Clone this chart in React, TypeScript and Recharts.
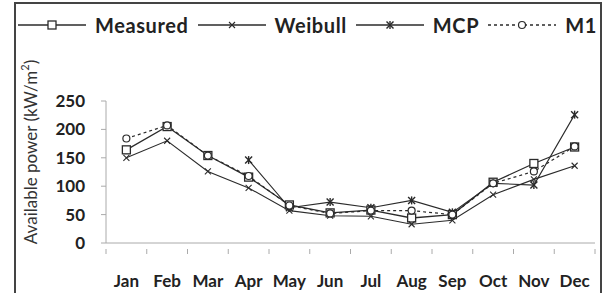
import React from "react";
import { Legend, Line, LineChart, XAxis, YAxis } from "recharts";

const MONTHS = ["Jan", "Feb", "Mar", "Apr", "May", "Jun", "Jul", "Aug", "Sep", "Oct", "Nov", "Dec"];
const MEASURED = [164, 205, 154, 116, 67, 53, 58, 44, 50, 107, 140, 169];
const WEIBULL = [150, 180, 126, 97, 57, 48, 47, 33, 40, 85, 112, 136];
const MCP = [null, null, null, 146, 62, 72, 62, 75, 54, 105, 102, 226];
const M1 = [184, 207, 154, 118, 66, 52, 57, 57, 50, 105, 126, 170];
const Y_TICKS = [0, 50, 100, 150, 200, 250];

const data = MONTHS.map((m, i) => ({
  month: m,
  measured: MEASURED[i],
  weibull: WEIBULL[i],
  mcp: MCP[i],
  m1: M1[i]
}));

const INK = "#2b2b2b";
const AXIS = "#aaa";
const FONT = "Lato, 'Open Sans', sans-serif";

type Shape = "square" | "cross" | "star" | "circle";

function Marker({ shape, cx, cy }: { shape: Shape; cx: number; cy: number }) {
  if (shape === "square") {
    return <rect x={cx - 4} y={cy - 4} width={8} height={8} fill="#fff" stroke={INK} strokeWidth={1.3} />;
  }
  if (shape === "circle") {
    return <circle cx={cx} cy={cy} r={3.5} fill="#fff" stroke={INK} strokeWidth={1.2} />;
  }
  if (shape === "cross") {
    return (
      <g stroke={INK} strokeWidth={1.1}>
        <line x1={cx - 3} y1={cy - 3} x2={cx + 3} y2={cy + 3} />
        <line x1={cx - 3} y1={cy + 3} x2={cx + 3} y2={cy - 3} />
      </g>
    );
  }
  return (
    <g stroke={INK} strokeWidth={1.4}>
      <line x1={cx - 3.5} y1={cy - 3.5} x2={cx + 3.5} y2={cy + 3.5} />
      <line x1={cx - 3.5} y1={cy + 3.5} x2={cx + 3.5} y2={cy - 3.5} />
      <line x1={cx} y1={cy - 4} x2={cx} y2={cy + 4} />
    </g>
  );
}

const makeDot = (shape: Shape) => (props: any) => {
  const { cx, cy, index } = props;
  if (cx == null || cy == null || Number.isNaN(cy)) return <g key={`e-${shape}-${index}`} />;
  return (
    <g key={`d-${shape}-${index}`}>
      <Marker shape={shape} cx={cx} cy={cy} />
    </g>
  );
};

// month label plus tick marks on the band edges (Excel style)
function MonthTick(props: any) {
  const { x, y, payload, index } = props;
  const half = payload?.offset ?? 0;
  const axisY = y - 26;
  const last = index === MONTHS.length - 1;
  return (
    <g>
      <line x1={x - half} y1={axisY} x2={x - half} y2={axisY + 5} stroke={AXIS} />
      {last && <line x1={x + half} y1={axisY} x2={x + half} y2={axisY + 5} stroke={AXIS} />}
      <text x={x} y={y} dy="0.71em" textAnchor="middle" fill="#222" fontFamily={FONT} fontWeight={700} fontSize={17}>
        {payload.value}
      </text>
    </g>
  );
}

const LEGEND_ITEMS: { label: string; shape: Shape; dashed: boolean }[] = [
  { label: "Measured", shape: "square", dashed: false },
  { label: "Weibull", shape: "cross", dashed: false },
  { label: "MCP", shape: "star", dashed: false },
  { label: "M1", shape: "circle", dashed: true }
];

function ChartLegend() {
  return (
    <div
      style={{
        display: "flex",
        alignItems: "center",
        fontFamily: FONT,
        fontWeight: 700,
        fontSize: 20,
        letterSpacing: 0.6,
        color: "#222"
      }}
    >
      {LEGEND_ITEMS.map((item) => (
        <div key={item.label} style={{ display: "flex", alignItems: "center", marginRight: 9 }}>
          <svg width={68} height={14}>
            <line x1={0} y1={7} x2={68} y2={7} stroke={INK} strokeWidth={1.3} strokeDasharray={item.dashed ? "3 3" : undefined} />
            <Marker shape={item.shape} cx={34} cy={7} />
          </svg>
          <span style={{ marginLeft: 9 }}>{item.label}</span>
        </div>
      ))}
    </div>
  );
}

function YLabel(props: any) {
  const vb = props.viewBox || {};
  const cy = (vb.y ?? 0) + (vb.height ?? 0) / 2 - 20;
  const cx = 30;
  return (
    <text
      x={cx}
      y={cy}
      transform={`rotate(-90 ${cx} ${cy})`}
      textAnchor="middle"
      dominantBaseline="central"
      fontFamily={FONT}
      fontSize={17}
      fill="#333"
    >
      Available power (kW/m
      <tspan dy={-6} fontSize={11}>2</tspan>
      <tspan dy={6}>)</tspan>
    </text>
  );
}

export default function App() {
  return (
    <div style={{ position: "absolute", left: 0, top: 0, width: 610, height: 293, background: "#fff", overflow: "hidden" }}>
      <div
        style={{
          position: "absolute",
          left: 14,
          top: 2,
          width: 588,
          height: 300,
          border: "2px solid #444",
          boxSizing: "border-box"
        }}
      />
      <LineChart width={610} height={293} data={data} margin={{ top: 77, right: 15, bottom: 20, left: 46 }}>
        <Legend
          verticalAlign="top"
          content={() => <ChartLegend />}
          wrapperStyle={{ position: "absolute", top: 13, left: 18, width: 590 }}
        />
        <XAxis
          dataKey="month"
          xAxisId="cat"
          scale="band"
          tickLine={false}
          stroke={AXIS}
          height={30}
          tickMargin={26}
          interval={0}
          tick={<MonthTick />}
        />
        <YAxis
          domain={[0, 250]}
          ticks={Y_TICKS}
          width={60}
          tickSize={5}
          tickMargin={16}
          stroke={AXIS}
          tick={{ fill: "#222", fontFamily: FONT, fontWeight: 700, fontSize: 17 }}
          label={<YLabel />}
        />
        <Line xAxisId="cat" dataKey="measured" stroke={INK} strokeWidth={1.3} dot={makeDot("square")} isAnimationActive={false} />
        <Line xAxisId="cat" dataKey="weibull" stroke={INK} strokeWidth={1.1} dot={makeDot("cross")} isAnimationActive={false} />
        <Line xAxisId="cat" dataKey="mcp" stroke={INK} strokeWidth={1.1} dot={makeDot("star")} isAnimationActive={false} />
        <Line
          xAxisId="cat"
          dataKey="m1"
          stroke={INK}
          strokeWidth={1.2}
          strokeDasharray="3 3"
          dot={makeDot("circle")}
          isAnimationActive={false}
        />
      </LineChart>
    </div>
  );
}
